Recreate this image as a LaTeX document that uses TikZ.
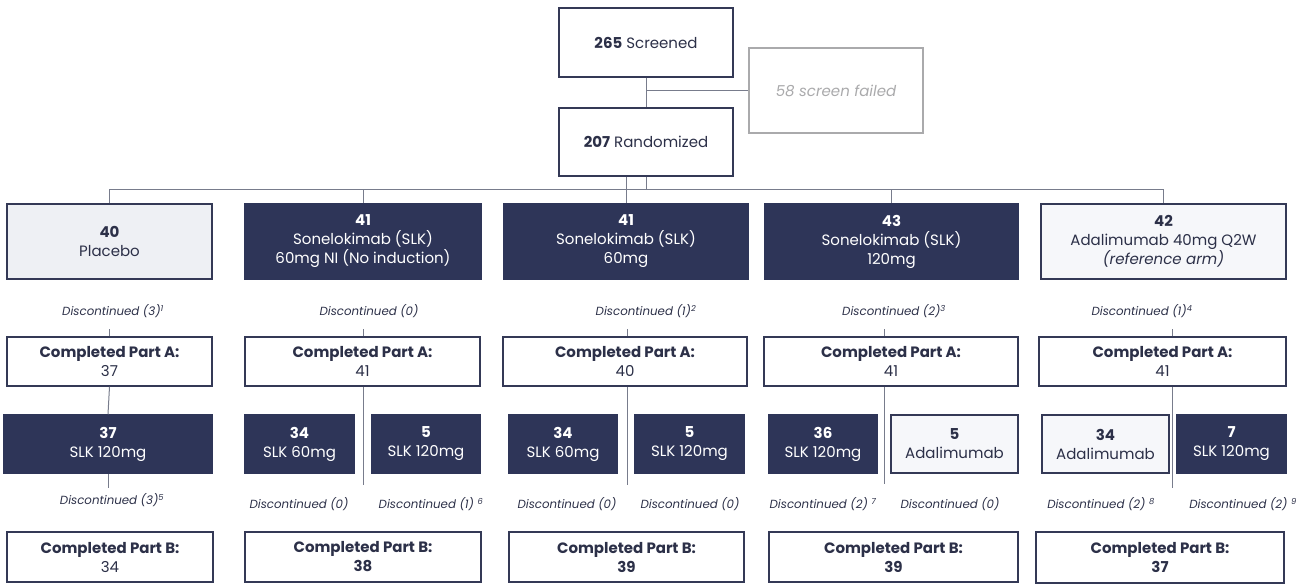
\documentclass[tikz,border=0pt]{standalone}
\usepackage{fontspec}
\setmainfont{Poppins}
\definecolor{navy}{RGB}{46,53,88}
\definecolor{bordc}{RGB}{52,57,86}
\definecolor{txt}{RGB}{44,48,72}
\definecolor{placf}{RGB}{238,240,244}
\definecolor{adaf}{RGB}{246,247,250}
\definecolor{linec}{RGB}{120,124,140}
\definecolor{failc}{RGB}{170,170,172}
\begin{document}
\begin{tikzpicture}[x=1pt,y=-1pt,
  box/.style={draw=bordc, line width=1.5pt, fill=white, text=txt, align=center, inner sep=0pt, font=\fontsize{15}{19}\selectfont},
  navybox/.style={box, fill=navy, draw=navy, text=white},
  lightbox/.style={box, fill=placf},
  adabox/.style={box, fill=adaf},
  failbox/.style={box, draw=failc, text=failc, font=\fontsize{15}{19}\selectfont\itshape},
  disctop/.style={font=\fontsize{11.8}{13}\selectfont\itshape, text=txt, inner xsep=0pt, inner ysep=11pt},
  discbot/.style={font=\fontsize{11.8}{13}\selectfont\itshape, text=txt, inner xsep=0pt, inner ysep=5pt},
  conn/.style={draw=linec, line width=1pt}]
\useasboundingbox (0,0) rectangle (1311,585);

% top
\node[box, minimum width=174pt, minimum height=69pt] (scr) at (646,42.5) {\textbf{265} Screened};
\node[failbox, minimum width=174pt, minimum height=85pt] (fail) at (836,90.5) {58 screen failed};
\node[box, minimum width=174pt, minimum height=68pt] (rand) at (646,142) {\textbf{207} Randomized};

% arms
\node[lightbox, minimum width=205pt, minimum height=75pt] (arm1) at (109.5,241.5) {\textbf{40}\\Placebo};
\node[navybox, minimum width=236pt, minimum height=75pt] (arm2) at (363,241.5) {\textbf{41}\\Sonelokimab (SLK)\\60mg NI (No induction)};
\node[navybox, minimum width=244pt, minimum height=75pt] (arm3) at (626,241.5) {\textbf{41}\\Sonelokimab (SLK)\\60mg};
\node[navybox, minimum width=253pt, minimum height=75pt] (arm4) at (891.5,241.5) {\textbf{43}\\Sonelokimab (SLK)\\120mg};
\node[adabox, minimum width=245pt, minimum height=75pt] (arm5) at (1163.5,241.5) {\textbf{42}\\Adalimumab 40mg Q2W\\\textit{(reference arm)}};

% discontinued part A
\node[disctop] (da1) at (113,311) {Discontinued (3)\textsuperscript{1}};
\node[disctop] (da2) at (369,311) {Discontinued (0)};
\node[disctop] (da3) at (646,311) {Discontinued (1)\textsuperscript{2}};
\node[disctop] (da4) at (894,311) {Discontinued (2)\textsuperscript{3}};
\node[disctop] (da5) at (1142,311) {Discontinued (1)\textsuperscript{4}};

% part A
\node[box, minimum width=205pt, minimum height=49pt] (pa1) at (109.5,361.5) {\textbf{Completed Part A:}\\37};
\node[box, minimum width=235pt, minimum height=49pt] (pa2) at (362.5,361.5) {\textbf{Completed Part A:}\\41};
\node[box, minimum width=244pt, minimum height=49pt] (pa3) at (625,361.5) {\textbf{Completed Part A:}\\40};
\node[box, minimum width=254pt, minimum height=49pt] (pa4) at (891,361.5) {\textbf{Completed Part A:}\\41};
\node[box, minimum width=247pt, minimum height=49pt] (pa5) at (1162.5,361.5) {\textbf{Completed Part A:}\\41};

% part B arms
\node[navybox, minimum width=208pt, minimum height=58pt] (b1) at (108,444) {\textbf{37}\\SLK 120mg};
\node[navybox, minimum width=109pt, minimum height=58pt] (b2a) at (299.5,444) {\textbf{34}\\SLK 60mg};
\node[navybox, minimum width=108pt, minimum height=58pt] (b2b) at (426,444) {\textbf{5}\\SLK 120mg};
\node[navybox, minimum width=108pt, minimum height=58pt] (b3a) at (563,444) {\textbf{34}\\SLK 60mg};
\node[navybox, minimum width=109pt, minimum height=58pt] (b3b) at (689.5,444) {\textbf{5}\\SLK 120mg};
\node[navybox, minimum width=108pt, minimum height=58pt] (b4a) at (823,444) {\textbf{36}\\SLK 120mg};
\node[adabox, minimum width=127pt, minimum height=58pt] (b4b) at (954.5,444) {\textbf{5}\\Adalimumab};
\node[adabox, minimum width=127pt, minimum height=58pt] (b5a) at (1105.5,444) {\textbf{34}\\Adalimumab};
\node[navybox, minimum width=109pt, minimum height=58pt] (b5b) at (1231.5,444) {\textbf{7}\\SLK 120mg};

% discontinued part B
\node[discbot] (db1) at (112,500) {Discontinued (3)\textsuperscript{5}};
\node[discbot] (db2a) at (299,504) {Discontinued (0)};
\node[discbot] (db2b) at (431,504) {Discontinued (1) \textsuperscript{6}};
\node[discbot] (db3a) at (567,504) {Discontinued (0)};
\node[discbot] (db3b) at (690,504) {Discontinued (0)};
\node[discbot] (db4a) at (823,504) {Discontinued (2) \textsuperscript{7}};
\node[discbot] (db4b) at (950,504) {Discontinued (0)};
\node[discbot] (db5a) at (1101,504) {Discontinued (2) \textsuperscript{8}};
\node[discbot] (db5b) at (1243,504) {Discontinued (2) \textsuperscript{9}};

% part B
\node[box, minimum width=206pt, minimum height=50pt] (pb1) at (110,557) {\textbf{Completed Part B:}\\34};
\node[box, minimum width=236pt, minimum height=50pt] (pb2) at (363,557) {\textbf{Completed Part B:}\\\textbf{38}};
\node[box, minimum width=235pt, minimum height=50pt] (pb3) at (626.5,557) {\textbf{Completed Part B:}\\\textbf{39}};
\node[box, minimum width=249pt, minimum height=50pt] (pb4) at (893.5,557) {\textbf{Completed Part B:}\\\textbf{39}};
\node[box, minimum width=248pt, minimum height=51pt] (pb5) at (1160,557.5) {\textbf{Completed Part B:}\\\textbf{37}};

% coordinates
\coordinate (bus) at (0,190);
\coordinate (v2) at (363,485);
\coordinate (v3) at (627,485);
\coordinate (v4) at (884,484);
\coordinate (v5) at (1172,488);

% connectors
\draw[conn] (scr.south) -- (rand.north);
\draw[conn] (scr.south |- fail.west) -- (fail.west);
\draw[conn] (rand.south) -- (rand.south |- bus);
\draw[conn] (arm1.north) -- (arm1.north |- bus) -- (arm5.north |- bus) -- (arm5.north);
\draw[conn] (arm2.north |- bus) -- (arm2.north);
\draw[conn] (rand.south -| arm3.north) -- (arm3.north);
\draw[conn] (arm4.north |- bus) -- (arm4.north);

\draw[conn] (pa1.north) -- (pa1.north |- da1.south);
\draw[conn] (v2 |- pa2.north) -- (v2 |- da2.south);
\draw[conn] (v3 |- pa3.north) -- (v3 |- da3.south);
\draw[conn] (v4 |- pa4.north) -- (v4 |- da4.south);
\draw[conn] (v5 |- pa5.north) -- (v5 |- da5.south);

\draw[conn] (pa1.south) -- (b1.north);
\draw[conn] (b1.south) -- (b1.south |- db1.north);
\draw[conn] (v2 |- pa2.south) -- (v2);
\draw[conn] (v3 |- pa3.south) -- (v3);
\draw[conn] (v4 |- pa4.south) -- (v4);
\draw[conn] (v5 |- pa5.south) -- (v5);
\end{tikzpicture}
\end{document}
